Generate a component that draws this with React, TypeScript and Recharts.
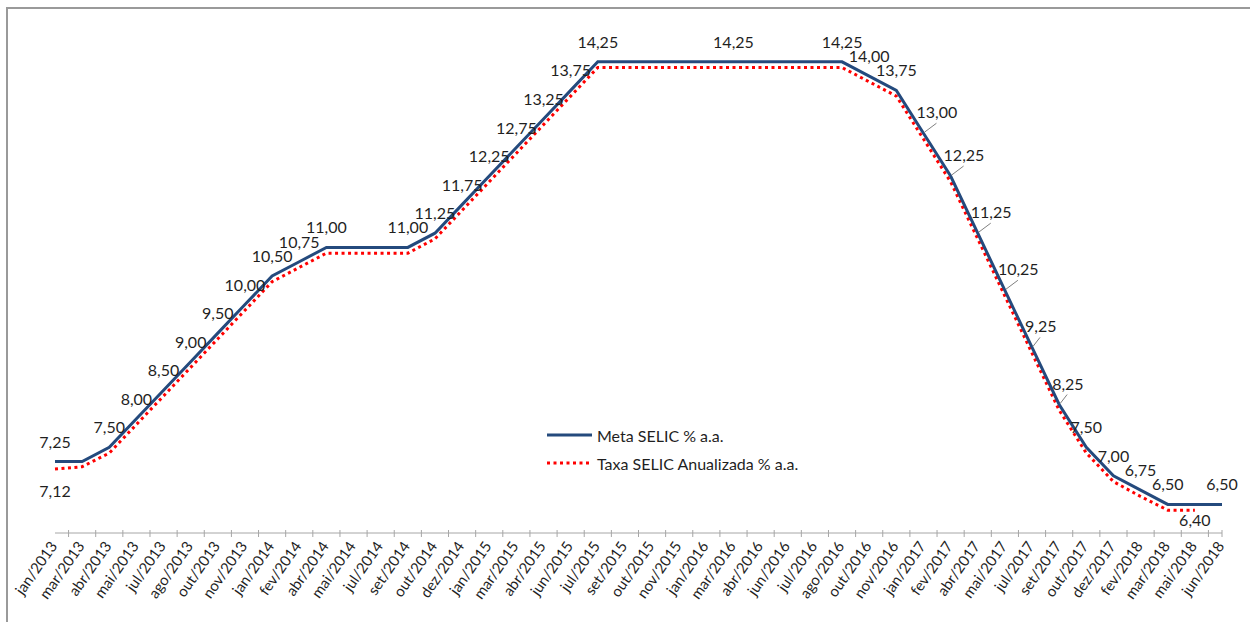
import { LineChart, Line, XAxis, YAxis, Legend, LabelList } from 'recharts'

document.body.style.margin = '0'

const months = [
  'jan/2013', 'mar/2013', 'abr/2013', 'mai/2013', 'jul/2013', 'ago/2013', 'out/2013', 'nov/2013',
  'jan/2014', 'fev/2014', 'abr/2014', 'mai/2014', 'jul/2014', 'set/2014', 'out/2014', 'dez/2014',
  'jan/2015', 'mar/2015', 'abr/2015', 'jun/2015', 'jul/2015', 'set/2015', 'out/2015', 'nov/2015',
  'jan/2016', 'mar/2016', 'abr/2016', 'jun/2016', 'jul/2016', 'ago/2016', 'out/2016', 'nov/2016',
  'jan/2017', 'fev/2017', 'abr/2017', 'mai/2017', 'jul/2017', 'set/2017', 'out/2017', 'dez/2017',
  'fev/2018', 'mar/2018', 'mai/2018', 'jun/2018',
]

const metaSelic = [
  7.25, 7.25, 7.5, 8.0, 8.5, 9.0, 9.5, 10.0,
  10.5, 10.75, 11.0, 11.0, 11.0, 11.0, 11.25, 11.75,
  12.25, 12.75, 13.25, 13.75, 14.25, 14.25, 14.25, 14.25,
  14.25, 14.25, 14.25, 14.25, 14.25, 14.25, 14.0, 13.75,
  13.0, 12.25, 11.25, 10.25, 9.25, 8.25, 7.5, 7.0,
  6.75, 6.5, 6.5, 6.5,
]

const taxaSelic = [
  7.12, 7.16, 7.4, 7.9, 8.4, 8.9, 9.4, 9.9,
  10.4, 10.65, 10.9, 10.9, 10.9, 10.9, 11.15, 11.65,
  12.15, 12.65, 13.15, 13.65, 14.15, 14.15, 14.15, 14.15,
  14.15, 14.15, 14.15, 14.15, 14.15, 14.15, 13.9, 13.65,
  12.9, 12.15, 11.15, 10.15, 9.15, 8.15, 7.4, 6.9,
  6.64, 6.4, 6.4, null,
]

// which points carry a value label
const metaLabelIdx = [0, 2, 3, 4, 5, 6, 7, 8, 9, 10, 13, 14, 15, 16, 17, 18, 19, 20, 25, 29, 30, 31, 38, 39, 40, 41, 43]
const metaLeaderIdx = [32, 33, 34, 35, 36, 37]
const taxaLabelIdx = [0, 42]

const data = months.map((month, i) => ({ month, meta: metaSelic[i], taxa: taxaSelic[i] }))

const W = 1250
const H = 622
const LEFT = 55
const RIGHT = 28
const TOP = 19
const AXIS_H = 89
const AXIS_Y = H - AXIS_H
const STEP = (W - LEFT - RIGHT) / (months.length - 1)

const FONT = 'Lato, "Open Sans", sans-serif'
const BLUE = '#244a7d'
const RED = '#ff0000'
const TXT = '#1f1f1f'

const fmt = (v: number) => v.toFixed(2).replace('.', ',')

function MonthTick(props: any) {
  const { x, index, payload } = props
  const tx = index === months.length - 1 ? x : x + STEP / 2
  const ax = x + 3
  const ay = AXIS_Y + 13
  return (
    <g>
      <line x1={tx} x2={tx} y1={AXIS_Y - 3} y2={AXIS_Y + 4} stroke="#a6a6a6" strokeWidth={1} />
      <text
        x={ax}
        y={ay}
        transform={`rotate(-55, ${ax}, ${ay})`}
        textAnchor="end"
        fontFamily={FONT}
        fontSize={15}
        fill={TXT}
      >
        {payload.value}
      </text>
    </g>
  )
}

function metaLabel(props: any) {
  const { x, y, value, index } = props
  if (value == null) return null
  if (metaLeaderIdx.includes(index)) {
    const s = fmt(value)
    const half = s.length === 5 ? 20 : 15
    return (
      <g>
        <line x1={x - 7 + half} y1={y - 10} x2={x + 1} y2={y - 1} stroke="#7f7f7f" strokeWidth={1} />
        <text x={x - 7} y={y - 15} textAnchor="start" fontFamily={FONT} fontSize={16} fill={TXT}>
          {s}
        </text>
      </g>
    )
  }
  if (!metaLabelIdx.includes(index)) return null
  return (
    <text x={x} y={y - 14} textAnchor="middle" fontFamily={FONT} fontSize={16} fill={TXT}>
      {fmt(value)}
    </text>
  )
}

function taxaLabel(props: any) {
  const { x, y, value, index } = props
  if (value == null || !taxaLabelIdx.includes(index)) return null
  // keep the label inside the plot, above the axis line
  const by = Math.min(y + 28, AXIS_Y - 7)
  return (
    <text x={x} y={by} textAnchor="middle" fontFamily={FONT} fontSize={16} fill={TXT}>
      {fmt(value)}
    </text>
  )
}

function renderLegend() {
  const rows = [
    { name: 'Meta SELIC % a.a.', color: BLUE, dash: undefined, width: 3 },
    { name: 'Taxa SELIC Anualizada % a.a.', color: RED, dash: '3 3.5', width: 3 },
  ]
  return (
    <div style={{ fontFamily: FONT, fontSize: 16, color: TXT }}>
      {rows.map((r) => (
        <div key={r.name} style={{ display: 'flex', alignItems: 'center', height: 28 }}>
          <svg width={50} height={10}>
            <line x1={0} x2={45} y1={5} y2={5} stroke={r.color} strokeWidth={r.width} strokeDasharray={r.dash} />
          </svg>
          <span>{r.name}</span>
        </div>
      ))}
    </div>
  )
}

export default function App() {
  return (
    <div style={{ position: 'relative', width: W, height: H, overflow: 'hidden', background: '#fff' }}>
      <div
        style={{
          position: 'absolute',
          left: 6,
          top: 7,
          width: W + 20,
          height: H + 20,
          border: '2px solid #9a9a9a',
          boxSizing: 'border-box',
        }}
      />
      <div style={{ position: 'absolute', left: 0, top: 0 }}>
        <LineChart width={W} height={H} data={data} margin={{ top: TOP, right: RIGHT, left: LEFT, bottom: 0 }}>
          <XAxis
            dataKey="month"
            height={AXIS_H}
            interval={0}
            tickLine={false}
            axisLine={{ stroke: '#a6a6a6', strokeWidth: 1 }}
            tick={<MonthTick />}
          />
          <YAxis hide domain={[6, 15]} type="number" />
          <Legend
            layout="horizontal"
            verticalAlign="middle"
            align="center"
            content={renderLegend}
            wrapperStyle={{ left: 547, top: 421, width: 320 }}
          />
          <Line
            name="Taxa SELIC Anualizada % a.a."
            dataKey="taxa"
            stroke={RED}
            strokeWidth={3}
            strokeDasharray="3 3.5"
            dot={false}
            type="linear"
            isAnimationActive={false}
          >
            <LabelList dataKey="taxa" content={taxaLabel} />
          </Line>
          <Line
            name="Meta SELIC % a.a."
            dataKey="meta"
            stroke={BLUE}
            strokeWidth={3}
            dot={false}
            type="linear"
            isAnimationActive={false}
          >
            <LabelList dataKey="meta" content={metaLabel} />
          </Line>
        </LineChart>
      </div>
    </div>
  )
}
